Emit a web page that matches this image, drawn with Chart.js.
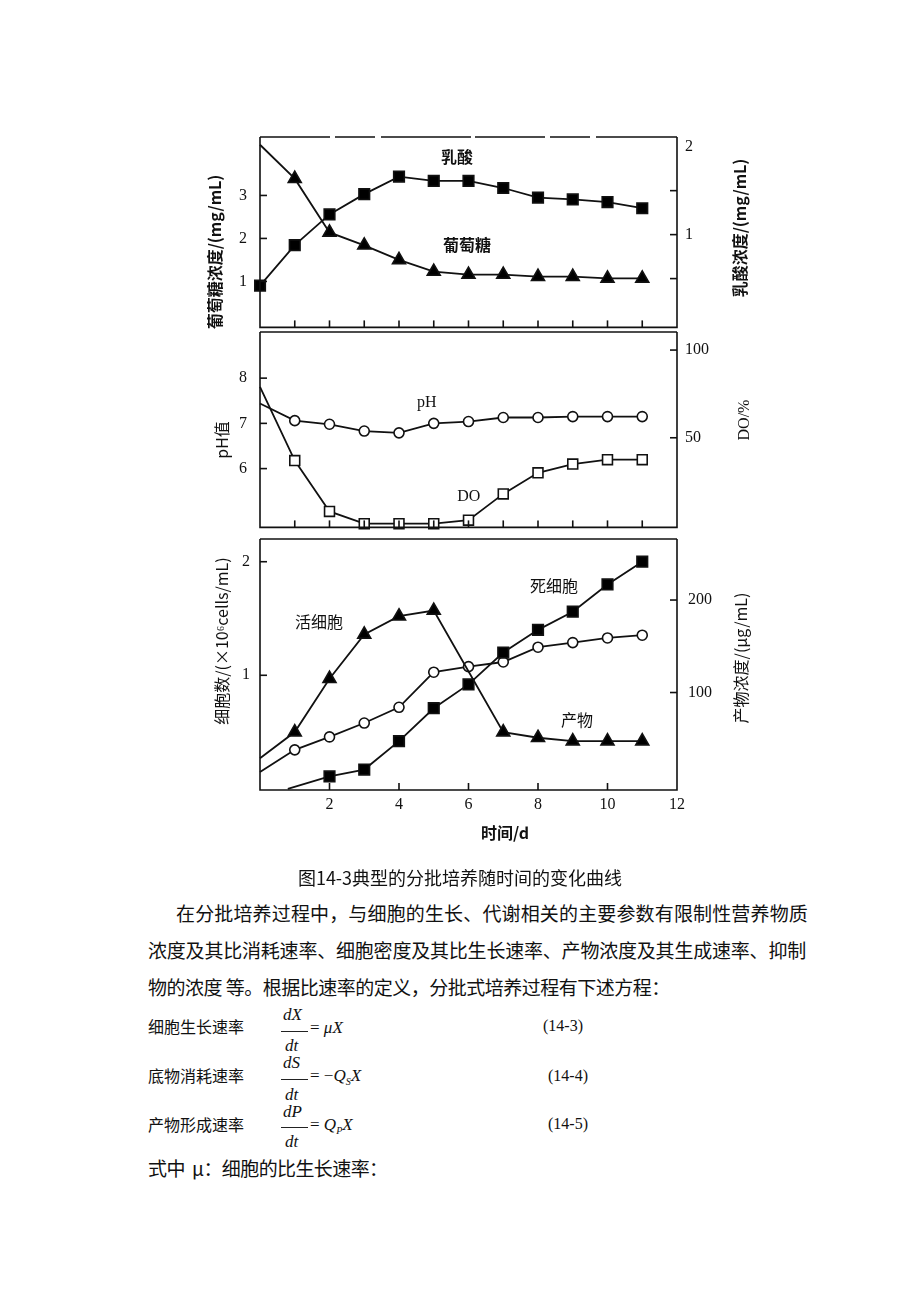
<!DOCTYPE html>
<html><head><meta charset="utf-8">
<script src="https://cdn.jsdelivr.net/npm/chart.js@4.4.0/dist/chart.umd.min.js"></script>
<style>
body{margin:0;background:#fff;width:920px;height:1302px;position:relative;overflow:hidden;font-family:"Noto Sans CJK SC";color:#111;}
canvas{position:absolute;left:0;}
.t{position:absolute;white-space:nowrap;color:#111;line-height:1;}
.p{font-size:19px;}
.eq{font-size:16px;}
.m{font-family:"Liberation Serif";font-style:italic;font-size:17px;}
.n{font-family:"Liberation Serif";font-size:16px;}
.bar{position:absolute;height:1px;background:#222;}
</style></head><body>
<canvas id="c1" width="920" height="250" style="top:100px"></canvas>
<canvas id="c2" width="920" height="250" style="top:300px"></canvas>
<canvas id="c3" width="920" height="360" style="top:500px"></canvas>

<div class="t" style="left:0;width:920px;text-align:center;top:868px;font-size:18px;">图14-3典型的分批培养随时间的变化曲线</div>
<div class="t p" style="left:176px;top:903px;letter-spacing:0.15px;">在分批培养过程中，与细胞的生长、代谢相关的主要参数有限制性营养物质</div>
<div class="t p" style="left:148px;top:940px;letter-spacing:-0.2px;">浓度及其比消耗速率、细胞密度及其比生长速率、产物浓度及其生成速率、抑制</div>
<div class="t p" style="left:148px;top:977px;letter-spacing:-0.5px;">物的浓度 等。根据比速率的定义，分批式培养过程有下述方程：</div>

<div class="t eq" style="left:148px;top:1018px;">细胞生长速率</div>
<div class="t m" style="left:283px;top:1006px;">dX</div>
<div class="bar" style="left:281px;top:1031px;width:27px;"></div>
<div class="t m" style="left:285px;top:1037px;">dt</div>
<div class="t m" style="left:310px;top:1019px;"><span style="font-style:normal">=</span> μX</div>
<div class="t n" style="left:543px;top:1018px;">(14-3)</div>

<div class="t eq" style="left:148px;top:1067px;">底物消耗速率</div>
<div class="t m" style="left:283px;top:1054px;">dS</div>
<div class="bar" style="left:281px;top:1079px;width:27px;"></div>
<div class="t m" style="left:285px;top:1086px;">dt</div>
<div class="t m" style="left:310px;top:1067px;"><span style="font-style:normal">= −</span>Q<sub style="font-size:10px">S</sub>X</div>
<div class="t n" style="left:548px;top:1068px;">(14-4)</div>

<div class="t eq" style="left:148px;top:1116px;">产物形成速率</div>
<div class="t m" style="left:283px;top:1103px;">dP</div>
<div class="bar" style="left:281px;top:1127px;width:27px;"></div>
<div class="t m" style="left:285px;top:1133px;">dt</div>
<div class="t m" style="left:310px;top:1116px;"><span style="font-style:normal">=</span> Q<sub style="font-size:10px">P</sub>X</div>
<div class="t n" style="left:548px;top:1116px;">(14-5)</div>

<div class="t p" style="left:148px;top:1158px;letter-spacing:-0.6px;">式中 &nbsp;μ：细胞的比生长速率：</div>

<script>
// ---------- data ----------
const days = [0,1,2,3,4,5,6,7,8,9,10,11];
const glucose = [4.18,3.39,2.14,1.84,1.50,1.23,1.16,1.16,1.11,1.11,1.07,1.07];
const lactate = [0.42,0.88,1.23,1.46,1.66,1.61,1.61,1.53,1.42,1.40,1.37,1.30];
const pHValues = [7.44,7.06,6.98,6.83,6.79,7.00,7.04,7.13,7.13,7.15,7.15,7.15];
const DOValues = [79,37,8,1,1,1,3,18,30,35,37.5,37.5];
const liveCells = [0.27,0.50,0.97,1.36,1.52,1.57,null,0.50,0.45,0.42,0.42,0.42];
const deadDays = [0.8,2,3,4,5,6,7,8,9,10,11];
const deadCells = [0,0.11,0.17,0.42,0.71,0.92,1.20,1.40,1.56,1.80,2.00];
const product = [14,38,52,67,84,122,128,133,149,154,159,162];

const xTickLabels = [2,4,6,8,10,12];
const glucoseTicks = [1,2,3];
const lactateTicks = [0.5,1,1.5,2];
const pHTicks = [6,7,8];
const DOTicks = [50,100];
const cellTicks = [1,2];
const productTicks = [100,200];

// ---------- helpers ----------
const INK = '#111';
const serif = '16px "Liberation Serif"';
const cjkB = 'bold 16px "Noto Sans CJK SC"';
const cjk = '16px "Noto Sans CJK SC"';

const pts = (xs, ys) => xs.map((x,i)=>({x, y: ys[i]}));

function line(data, axis, style, filled, radius, skipFirst){
  return {
    data, yAxisID: axis, borderColor: INK, borderWidth: 1.8, tension: 0, spanGaps: true,
    pointStyle: style, pointBackgroundColor: filled ? '#000' : '#fff', pointBorderColor: INK,
    pointBorderWidth: 1.6,
    pointRadius: c => (skipFirst && c.dataIndex === 0) ? 0 : radius,
    clip: 6
  };
}

function yAxis(pos, min, max, ticks, labelFn, pad){
  return {
    type: 'linear', position: pos, min, max,
    afterFit(s){ s.width = pos === 'left' ? 260 : 243; },
    afterBuildTicks(s){ s.ticks = ticks.map(v => ({value: v})); },
    ticks: { font: {family: 'Liberation Serif', size: 16}, color: INK, padding: pad, callback: labelFn },
    grid: { display: false, drawTicks: false }, border: { display: false }
  };
}

const deco = {
  id: 'deco',
  afterDatasetsDraw(chart, args, o){
    const {ctx, chartArea: a, scales} = chart;
    const top0 = chart.canvas.offsetTop;
    ctx.save();
    ctx.strokeStyle = INK; ctx.lineWidth = 1.6;
    ctx.beginPath();
    ctx.moveTo(a.left, a.top); ctx.lineTo(a.left, a.bottom); ctx.lineTo(a.right, a.bottom); ctx.lineTo(a.right, a.top);
    ctx.stroke();
    ctx.save();
    if (o.topDash) ctx.setLineDash(o.topDash);
    ctx.beginPath(); ctx.moveTo(a.left, a.top); ctx.lineTo(a.right, a.top); ctx.stroke();
    ctx.restore();
    const tl = 7;
    (o.yMarks || []).forEach(([id, vals]) => {
      const s = scales[id]; const left = s.position === 'left';
      vals.forEach(v => {
        const y = s.getPixelForValue(v);
        ctx.beginPath();
        if (left) { ctx.moveTo(a.left, y); ctx.lineTo(a.left + tl, y); }
        else { ctx.moveTo(a.right, y); ctx.lineTo(a.right - tl, y); }
        ctx.stroke();
      });
    });
    (o.xMarks || []).forEach(v => {
      const x = scales.x.getPixelForValue(v);
      ctx.beginPath(); ctx.moveTo(x, a.bottom); ctx.lineTo(x, a.bottom - tl); ctx.stroke();
    });
    ctx.fillStyle = INK; ctx.textAlign = 'center'; ctx.textBaseline = 'middle';
    (o.labels || []).forEach(l => {
      ctx.font = l.font;
      ctx.fillText(l.text, scales.x.getPixelForValue(l.x), scales[l.axis].getPixelForValue(l.y));
    });
    (o.titles || []).forEach(t => {
      ctx.save();
      ctx.font = t.font;
      ctx.translate(t.x, t.y - top0);
      if (t.rot) ctx.rotate(-Math.PI/2);
      ctx.fillText(t.text, 0, 0);
      ctx.restore();
    });
    ctx.restore();
  }
};

function makeChart(id, datasets, scales, padding, decoOpts){
  return new Chart(document.getElementById(id), {
    type: 'line',
    data: { datasets },
    options: {
      responsive: false, animation: false, parsing: true,
      layout: { padding },
      plugins: { legend: {display: false}, tooltip: {enabled: false}, deco: decoOpts },
      scales
    },
    plugins: [deco]
  });
}

const xHidden = { type: 'linear', min: 0, max: 12, display: false };
const allDays = [1,2,3,4,5,6,7,8,9,10,11];

// ---------- top panel: glucose & lactate ----------
makeChart('c1', [
  line(pts(days, glucose), 'yL', 'triangle', true, 7.5, true),
  line(pts(days, lactate), 'yR', 'rect', true, 7.5, false)
], {
  x: xHidden,
  yL: yAxis('left', -0.07, 4.36, glucoseTicks, v => v, 13),
  yR: yAxis('right', -0.055, 2.11, lactateTicks, v => Number.isInteger(v) ? v : '', 8)
}, {left: 0, right: 0, top: 37, bottom: 18}, {
  topDash: [70, 5, 40, 6, 90, 4],
  yMarks: [['yL', glucoseTicks], ['yR', [0.5,1,1.5]]],
  xMarks: allDays,
  labels: [
    {text: '乳酸', x: 5.67, y: 3.89, axis: 'yL', font: cjkB},
    {text: '葡萄糖', x: 5.96, y: 1.84, axis: 'yL', font: cjkB}
  ],
  titles: [
    {text: '葡萄糖浓度/(mg/mL)', x: 215, y: 252, rot: true, font: cjkB},
    {text: '乳酸浓度/(mg/mL)', x: 740, y: 228, rot: true, font: cjkB}
  ]
});

// ---------- middle panel: pH & DO ----------
makeChart('c2', [
  line(pts(days, pHValues), 'yL', 'circle', false, 5, true),
  line(pts(days, DOValues), 'yR', 'rect', false, 7, true)
], {
  x: xHidden,
  yL: yAxis('left', 4.7, 9.02, pHTicks, v => v, 13),
  yR: yAxis('right', -1.1, 110.3, DOTicks, v => v, 8)
}, {left: 0, right: 0, top: 32, bottom: 13}, {
  yMarks: [['yL', pHTicks], ['yR', DOTicks]],
  xMarks: allDays,
  labels: [
    {text: 'pH', x: 4.8, y: 7.46, axis: 'yL', font: serif},
    {text: 'DO', x: 6.01, y: 5.38, axis: 'yL', font: serif}
  ],
  titles: [
    {text: 'pH值', x: 222, y: 440, rot: true, font: cjk},
    {text: 'DO/%', x: 745, y: 420, rot: true, font: serif}
  ]
});

// ---------- bottom panel: cells & product ----------
makeChart('c3', [
  line(pts(days, liveCells), 'yL', 'triangle', true, 7.5, true),
  line(pts(deadDays, deadCells), 'yL', 'rect', true, 7.5, true),
  line(pts(days, product), 'yR', 'circle', false, 5, true)
], {
  x: {
    type: 'linear', min: 0, max: 12, position: 'bottom',
    afterFit(s){ s.height = 70; },
    afterBuildTicks(s){ s.ticks = xTickLabels.map(v => ({value: v})); },
    ticks: { font: {family: 'Liberation Serif', size: 16}, color: INK, padding: 5, maxRotation: 0 },
    grid: { display: false, drawTicks: false }, border: { display: false }
  },
  yL: yAxis('left', -0.01, 2.2, cellTicks, v => v, 10),
  yR: yAxis('right', -5.4, 266, productTicks, v => v, 11)
}, {left: 0, right: 0, top: 39, bottom: 0}, {
  yMarks: [['yL', cellTicks], ['yR', productTicks]],
  xMarks: [2,4,6,8,10],
  labels: [
    {text: '活细胞', x: 1.7, y: 1.47, axis: 'yL', font: cjk},
    {text: '死细胞', x: 8.46, y: 1.79, axis: 'yL', font: cjk},
    {text: '产物', x: 9.12, y: 0.61, axis: 'yL', font: cjk}
  ],
  titles: [
    {text: '细胞数/(×10⁶cells/mL)', x: 222, y: 641, rot: true, font: cjk},
    {text: '产物浓度/(μg/mL)', x: 741, y: 658, rot: true, font: cjk},
    {text: '时间/d', x: 505, y: 833, rot: false, font: cjkB}
  ]
});
</script>
</body></html>
